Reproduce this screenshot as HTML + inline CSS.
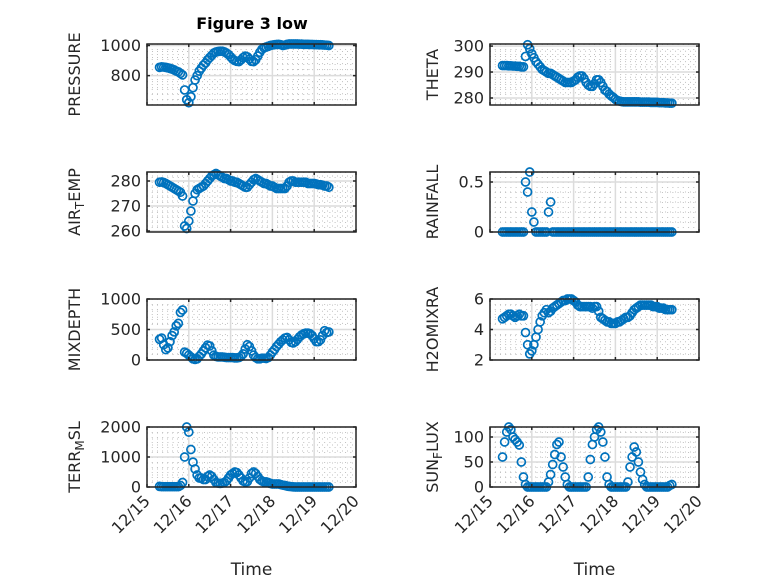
<!DOCTYPE html>
<html><head><meta charset="utf-8"><style>
html,body{margin:0;padding:0;background:#fff;}
svg{display:block;font-family:"DejaVu Sans","Liberation Sans",sans-serif;}
</style></head><body>
<svg id="fig" width="778" height="583" viewBox="0 0 778 583">
<text x="252" y="29" text-anchor="middle" font-size="16" font-weight="bold" fill="#000">Figure 3 low</text>
</svg>
<script>
const times = [0.30,0.35,0.40,0.45,0.50,0.55,0.60,0.65,0.70,0.75,
0.80,0.85,0.90,0.95,1.00,1.05,1.10,1.15,1.20,1.25,
1.30,1.35,1.40,1.45,1.50,1.55,1.60,1.65,1.70,1.75,
1.80,1.85,1.90,1.95,2.00,2.05,2.10,2.15,2.20,2.25,
2.30,2.35,2.40,2.45,2.50,2.55,2.60,2.65,2.70,2.75,
2.80,2.85,2.90,2.95,3.00,3.05,3.10,3.15,3.20,3.25,
3.30,3.35,3.40,3.45,3.50,3.55,3.60,3.65,3.70,3.75,
3.80,3.85,3.90,3.95,4.00,4.05,4.10,4.15,4.20,4.25,
4.30,4.35];
const xTickLabels = ["12/15","12/16","12/17","12/18","12/19","12/20"];
const pressure = [855,858,857,855,852,848,843,838,830,825,
815,805,705,640,620,660,720,771,800,830,
850,870,884,905,920,935,950,957,960,962,
962,958,950,940,925,910,900,895,893,905,
920,930,925,910,895,893,905,930,955,975,
985,990,995,1000,1003,1005,1007,1008,1005,1000,
1003,1008,1010,1010,1010,1010,1010,1009,1009,1008,
1008,1008,1007,1007,1006,1006,1005,1005,1004,1003,
1002,1000];
const theta = [292.5,292.5,292.5,292.4,292.4,292.3,292.3,292.2,292.2,292,
292,296,300.5,299,297,295.5,294,293,292,291,
290.5,290,289.5,289.5,289,288.5,288,287.5,287,286.5,
286,286,286,286,286.5,287,288,288.5,288.5,287.5,
286,285,284.5,284.5,285.5,287,287,286,284.5,283,
282.5,281.5,280.8,280.2,279.5,279,278.8,278.6,278.5,278.5,
278.5,278.5,278.5,278.5,278.5,278.5,278.4,278.4,278.4,278.4,
278.4,278.3,278.3,278.3,278.3,278.2,278.2,278.2,278.1,278.1,
278,278];
const airTemp = [279.5,279.6,279.4,279,278.5,278,277.5,277,276.5,276,
275.5,274,262,261,264,268,272,275,276.5,277,
277.5,278,279,280,281,282,282.5,283,282.5,282,
281.5,281,281,280.5,280,280,279.5,279.5,279,278.5,
278,277.5,277.5,278.5,279.5,280.5,281,280.5,280,279.5,
279,279,278.5,278,278,277.5,277,277,277,277,
277,278,279.5,280,280,279.5,279.5,279.5,279.5,279.5,
279.5,279,279,279,279,278.8,278.5,278.5,278.3,278,
278,277.5];
const rainfall = [0,0,0,0,0,0,0,0,0,0,
0,0.5,0.4,0.6,0.2,0.1,0,0,0,0,
0,0,0.2,0.3,0,0,0,0,0,0,
0,0,0,0,0,0,0,0,0,0,
0,0,0,0,0,0,0,0,0,0,
0,0,0,0,0,0,0,0,0,0,
0,0,0,0,0,0,0,0,0,0,
0,0,0,0,0,0,0,0,0,0,
0,0];
const mixDepth = [340,360,250,170,200,300,400,460,560,600,
780,820,130,110,80,50,20,10,20,60,
100,150,200,245,230,150,80,60,50,50,
50,45,40,40,40,40,35,35,40,60,
100,180,250,220,150,80,40,20,20,30,
30,25,40,80,130,170,220,260,300,330,
360,370,330,290,280,300,340,380,410,430,
440,440,430,400,350,300,300,330,400,480,
450,460];
const h2oMix = [4.7,4.8,4.9,5.0,5.0,4.9,4.8,4.9,5.0,4.9,
4.9,3.8,3.0,2.4,2.6,3.0,3.5,4.0,4.5,4.9,
5.1,5.3,5.1,5.2,5.4,5.5,5.6,5.7,5.8,5.9,
5.9,6.0,6.0,6.0,5.9,5.8,5.6,5.5,5.5,5.5,
5.5,5.5,5.5,5.4,5.5,5.5,5.2,4.8,4.7,4.6,
4.5,4.5,4.4,4.4,4.4,4.5,4.5,4.6,4.7,4.8,
4.8,4.9,5.1,5.3,5.4,5.5,5.6,5.6,5.6,5.6,
5.6,5.6,5.5,5.5,5.5,5.4,5.4,5.4,5.3,5.3,
5.3,5.3];
const terrMsl = [20,10,10,10,10,10,10,10,10,10,
50,150,1000,2000,1830,1250,830,600,400,300,
300,250,250,350,400,350,250,150,130,120,
130,150,200,300,400,450,500,480,400,300,
200,170,180,300,450,500,450,350,250,200,
170,170,150,120,100,100,100,100,80,60,
50,30,20,10,5,0,0,0,0,0,
0,0,0,0,0,0,0,0,0,0,
0,0];
const sunFlux = [60,90,110,120,115,100,95,90,84,50,
20,5,0,0,0,0,0,0,0,0,
0,0,10,25,45,65,85,90,60,40,
20,5,0,0,0,0,0,0,0,0,
0,20,55,85,100,115,120,110,90,60,
20,5,0,0,0,0,0,0,0,0,
10,40,60,80,70,50,30,15,5,0,
0,0,0,0,0,0,0,0,0,0,
3,5];
const pressureTicks = [800,1000];
const thetaTicks = [280,290,300];
const airTicks = [260,270,280];
const rainTicks = [0,0.5];
const mixTicks = [0,500,1000];
const h2oTicks = [2,4,6];
const terrTicks = [0,1000,2000];
const sunTicks = [0,50,100];

const NS = "http://www.w3.org/2000/svg";
const svg = document.getElementById("fig");
function mk(tag, attrs, parent){
  const e = document.createElementNS(NS, tag);
  for (const k in attrs) e.setAttribute(k, attrs[k]);
  (parent||svg).appendChild(e);
  return e;
}
const cols = [147, 490];
const rows = [[44,105],[172,232],[299,360],[427,487]];
const W = 209;

function panel(col,row,vals,ylo,yhi,ticks,labelParts,name,showX){
  const x0 = cols[col], x1 = x0 + W, y0 = rows[row][0], y1 = rows[row][1];
  const g = mk("g", {});
  
  
  const sx = t => x0 + t/5*W;
  const sy = v => y1 - (v-ylo)/(yhi-ylo)*(y1-y0);
  for (let d=0; d<5; d++) for (let k=1; k<8; k++){
    const x = sx(d + k/8);
    mk("line",{x1:x,x2:x,y1:y0,y2:y1,stroke:"#c0c0c0","stroke-width":1,"stroke-dasharray":"1 4"},g);
  }
  const step = ticks[1]-ticks[0];
  for (let v = ticks[0]-step; v <= yhi; v += step/5){
    if (v < ylo || v > yhi) continue;
    const y = sy(v);
    mk("line",{x1:x0,x2:x1,y1:y,y2:y,stroke:"#c0c0c0","stroke-width":1,"stroke-dasharray":"1 4"},g);
  }
  for (let d=1; d<5; d++){
    const x = sx(d);
    mk("line",{x1:x,x2:x,y1:y0,y2:y1,stroke:"#dcdcdc","stroke-width":1.5},g);
  }
  ticks.forEach(v=>{
    const y = sy(v);
    mk("line",{x1:x0,x2:x1,y1:y,y2:y,stroke:"#dcdcdc","stroke-width":1.5},g);
  });
  vals.forEach((v,i)=>{
    const c = mk("circle",{cx:sx(times[i]),cy:sy(v),r:4,fill:"none",stroke:"#0072BD","stroke-width":1.7},g);
    
    
  });
  mk("rect",{x:x0,y:y0,width:W,height:y1-y0,fill:"none",stroke:"#262626","stroke-width":1.5},g);
  for (let d=0; d<=5; d++){
    const x = sx(d);
    mk("line",{x1:x,x2:x,y1:y1,y2:y1-3,stroke:"#262626","stroke-width":1.5},g);
    mk("line",{x1:x,x2:x,y1:y0,y2:y0+3,stroke:"#262626","stroke-width":1.5},g);
    if (showX){
      const t = mk("text",{x:x+4,y:y1+15,"text-anchor":"end","font-size":16,fill:"#262626",transform:"rotate(-45 "+(x+4)+" "+(y1+15)+")"},g);
      t.textContent = xTickLabels[d];
      
      
    }
  }
  ticks.forEach(v=>{
    const y = sy(v);
    mk("line",{x1:x0,x2:x0+3,y1:y,y2:y,stroke:"#262626","stroke-width":1.5},g);
    mk("line",{x1:x1,x2:x1-3,y1:y,y2:y,stroke:"#262626","stroke-width":1.5},g);
    const t = mk("text",{x:x0-6,y:y+5.5,"text-anchor":"end","font-size":16,fill:"#262626"},g);
    t.textContent = String(v);
    
    
  });
  const lx = col===0 ? 80 : 438, ly = (y0+y1)/2;
  const lab = mk("text",{x:lx,y:ly,"text-anchor":"middle","font-size":16,fill:"#262626",transform:"rotate(-90 "+lx+" "+ly+")"},g);
  
  
  labelParts.forEach(p=>{
    const ts = mk("tspan",{},lab);
    if (p[1]) { ts.setAttribute("font-size","12"); ts.setAttribute("dy","4"); }
    else if (p[2]) { ts.setAttribute("dy","-4"); }
    ts.textContent = p[0];
  });
  if (showX){
    const tl = mk("text",{x:(x0+x1)/2,y:575,"text-anchor":"middle","font-size":17,fill:"#262626"},g);
    tl.textContent = "Time";
    
    
  }
}
panel(0,0,pressure,605,1010,pressureTicks,[["PRESSURE"]],"pressure",false);
panel(1,0,theta,277.3,300.8,thetaTicks,[["THETA"]],"theta",false);
panel(0,1,airTemp,259.6,283.6,airTicks,[["AIR"],["T",1],["EMP",0,1]],"air-temp",false);
panel(1,1,rainfall,0,0.6,rainTicks,[["RAINFALL"]],"rainfall",false);
panel(0,2,mixDepth,0,1000,mixTicks,[["MIXDEPTH"]],"mixdepth",false);
panel(1,2,h2oMix,2,6,h2oTicks,[["H2OMIXRA"]],"h2omixra",false);
panel(0,3,terrMsl,0,2000,terrTicks,[["TERR"],["M",1],["SL",0,1]],"terr-msl",true);
panel(1,3,sunFlux,0,120,sunTicks,[["SUN"],["F",1],["LUX",0,1]],"sun-flux",true);
</script>
</body></html>
